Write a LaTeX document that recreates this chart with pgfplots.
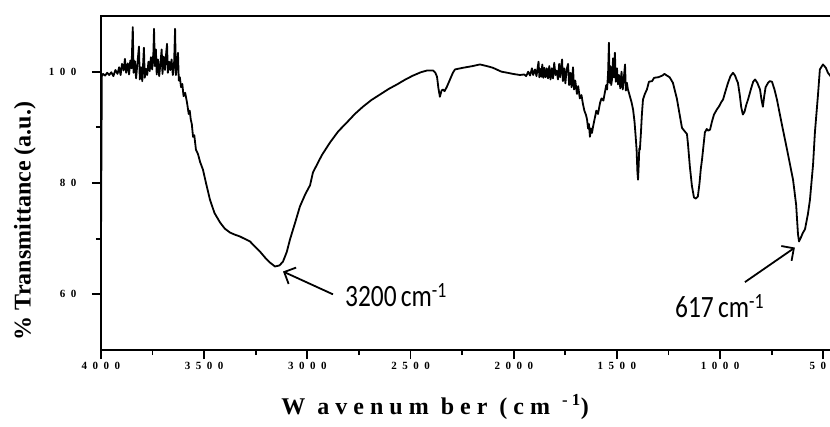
\documentclass[border=0pt]{standalone}
\usepackage{fontspec}
\setmainfont{Liberation Serif}
\newfontfamily\calib{Carlito}
\newfontfamily\tickfont[LetterSpace=50]{Liberation Serif}
\newfontfamily\labfont[LetterSpace=25]{Liberation Serif}
\usepackage{pgfplots}
\pgfplotsset{compat=1.18}
\usetikzlibrary{arrows.meta}

% FTIR spectrum (wavenumber, %T)
\pgfplotstableread{
w T
4000 69
3996 99.2
3990 99.6
3980 99.3
3970 99.8
3960 99.4
3950 99.9
3940 99.2
3930 100.3
3920 99.6
3912 100.8
3905 99.4
3898 101.4
3890 100.2
3884 102.3
3878 99.8
3870 101.5
3864 99.5
3858 102.0
3852 100.6
3846 108.0
3842 99.8
3836 101.9
3830 98.8
3824 101.3
3816 104.5
3812 98.6
3806 100.8
3800 98.3
3792 104.3
3788 98.9
3782 100.5
3776 99.4
3770 101.8
3764 100.1
3758 102.6
3752 100.4
3746 103.5
3743 107.7
3739 101.0
3734 104.0
3730 99.5
3724 102.2
3718 99.2
3712 101.5
3706 104.0
3702 99.6
3696 102.7
3690 100.3
3684 103.4
3680 105.0
3676 99.8
3670 101.8
3664 100.3
3658 102.2
3652 99.4
3646 101.2
3641 107.7
3637 99.4
3633 101.0
3627 103.4
3623 98.4
3618 99.0
3612 97.2
3606 97.8
3600 95.6
3592 96.2
3583 94.4
3575 92.4
3570 93.0
3565 91.4
3560 90.6
3554 88.3
3548 88.6
3540 86.0
3530 85.2
3520 83.8
3506 82.4
3490 79.8
3472 77.0
3450 74.6
3423 72.9
3400 71.8
3375 71.1
3350 70.7
3327 70.4
3300 69.9
3278 69.5
3255 68.6
3230 67.7
3205 66.6
3181 65.7
3157 65.0
3135 65.2
3118 65.9
3100 67.6
3084 69.9
3060 72.8
3036 75.8
3010 78.0
2987 79.6
2973 81.9
2930 85.0
2890 87.3
2850 89.3
2808 90.9
2770 92.4
2731 93.7
2690 94.9
2648 95.9
2606 96.9
2566 97.7
2525 98.6
2488 99.3
2450 99.9
2421 100.2
2391 100.2
2380 99.8
2372 99.1
2365 97.0
2358 95.5
2350 96.6
2343 96.8
2335 96.5
2324 97.3
2309 98.6
2295 99.8
2285 100.4
2246 100.7
2200 101.0
2164 101.3
2130 101.0
2101 100.7
2060 100.0
2030 99.8
2004 99.6
1970 99.4
1950 99.5
1940 99.2
1930 100.0
1921 99.3
1912 100.6
1906 99.4
1897 100.4
1890 99.2
1880 101.8
1876 99.0
1870 100.5
1866 99.1
1862 101.3
1857 98.9
1852 100.7
1846 99.0
1840 100.6
1834 98.8
1828 101.0
1822 98.6
1816 100.6
1810 98.8
1804 101.6
1798 99.4
1792 100.2
1786 98.6
1780 101.4
1775 99.0
1770 100.9
1766 102.2
1762 98.3
1756 100.6
1750 97.9
1744 100.4
1737 101.4
1732 97.6
1726 99.8
1720 97.2
1713 100.8
1708 96.8
1702 98.4
1694 96.0
1688 97.4
1680 95.2
1672 95.8
1665 94.2
1658 93.0
1650 92.2
1645 91.4
1640 89.8
1636 90.6
1631 88.3
1626 89.8
1621 89.0
1616 90.1
1610 91.2
1600 93.0
1592 92.4
1582 94.4
1575 95.2
1566 94.8
1558 96.4
1552 97.6
1548 96.8
1543 99.8
1539 105.2
1536 98.0
1532 101.0
1528 97.6
1524 98.6
1519 102.4
1515 99.0
1510 103.4
1506 98.2
1500 100.6
1495 97.7
1490 99.4
1484 97.0
1478 100.0
1472 96.8
1466 99.2
1461 101.3
1457 96.6
1452 98.0
1447 96.8
1442 96.2
1437 95.5
1430 94.6
1422 93.2
1415 91.0
1410 88.6
1405 86.0
1401 82.0
1398 80.6
1395 83.0
1392 86.2
1389 86.0
1384 89.0
1379 92.5
1374 95.0
1365 96.0
1355 96.8
1345 98.2
1330 98.3
1320 98.9
1300 99.0
1280 99.3
1270 99.6
1258 99.3
1245 99.0
1229 98.0
1210 95.2
1195 92.0
1185 89.9
1170 89.2
1161 88.8
1156 87.0
1147 83.0
1137 79.5
1127 77.4
1118 77.2
1108 77.6
1100 80.0
1094 82.5
1088 84.2
1080 87.0
1074 89.1
1065 89.7
1058 89.4
1049 89.6
1040 91.0
1030 92.3
1016 93.2
1005 93.8
995 94.5
986 95.0
975 96.4
962 98.0
950 99.2
938 99.8
928 99.3
920 98.5
914 98.0
905 95.8
898 93.6
890 92.3
882 92.8
874 94.0
865 95.0
850 97.0
840 98.2
831 98.6
820 98.0
807 96.8
800 95.0
793 93.7
787 95.5
780 97.2
768 98.0
760 98.3
749 98.2
737 96.8
725 95.0
701 90.5
676 86.0
647 80.6
632 76.1
623 70.8
618 69.5
609 70.2
600 71.0
589 71.7
575 74.4
565 77.0
550 83.3
541 89.1
526 95.9
517 100.4
502 101.3
488 100.7
478 99.8
459 98.9
}\spectrum

\begin{document}
\begin{tikzpicture}
\begin{axis}[
  at={(0,0)}, anchor=south west,
  scale only axis, width=732.7pt, height=334pt,
  x dir=reverse, xmin=450, xmax=4000, ymin=50, ymax=110,
  axis line style={line width=2.4pt},
  tick style={line width=1.8pt, black},
  tick align=outside, xtick pos=bottom, ytick pos=left,
  major tick length=9pt, minor tick length=5pt,
  xtick={500,1000,1500,2000,2500,3000,3500,4000},
  xticklabels={500,1000,1500,2000,2500,3000,3500,4000},
  minor xtick={750,1250,1750,2250,2750,3250,3750},
  ytick={60,80,100}, yticklabels={60,80,100},
  minor ytick={70,90},
  ticklabel style={font=\tickfont\bfseries\fontsize{11}{13}\selectfont},
  yticklabel style={xshift=-12pt},
  xlabel={\labfont\bfseries\fontsize{24}{28}\selectfont W avenum ber (cm \textsuperscript{-1})},
  xlabel style={at={(axis description cs:0.456,-0.171)}, anchor=center},
  ylabel={\bfseries\fontsize{24}{28}\selectfont \% Transmittance (a.u.)},
  ylabel style={at={(axis description cs:-0.104,0.386)}, anchor=center},
]
\addplot[black, line width=1.8pt, line join=round] table[x=w, y=T] {\spectrum};
\draw[line width=1.8pt, -{Straight Barb[length=9pt, width=18pt]}] (axis cs:2876,60.0) -- (axis cs:3118,64.1);
\draw[line width=1.8pt, -{Straight Barb[length=9pt, width=18pt]}] (axis cs:880,62.2) -- (axis cs:638,68.4);
\node[anchor=base west, inner sep=0pt, xscale=0.82, font=\calib\fontsize{31}{34}\selectfont] at (axis cs:2818,57.8) {3200\,cm\textsuperscript{-1}};
\node[anchor=base west, inner sep=0pt, xscale=0.82, font=\calib\fontsize{31}{34}\selectfont] at (axis cs:1219,55.9) {617\,cm\textsuperscript{-1}};
\end{axis}
\pgfresetboundingbox
\path[use as bounding box] (-101pt,-76pt) rectangle (729pt,350pt);
\end{tikzpicture}
\end{document}
